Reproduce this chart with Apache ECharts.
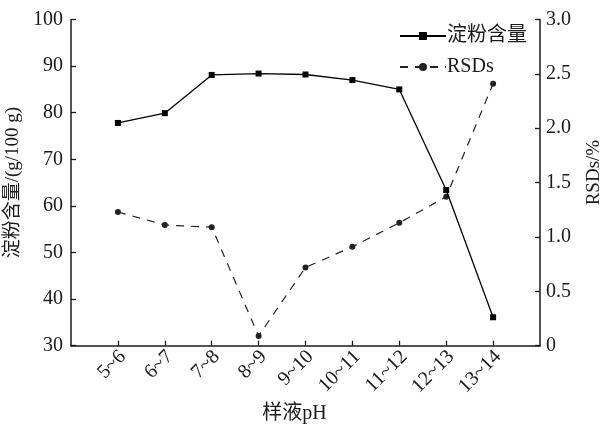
<!DOCTYPE html>
<html>
<head>
<meta charset="utf-8">
<script src="https://cdn.jsdelivr.net/npm/echarts@6/dist/echarts.min.js"></script>
<style>
  html, body { margin: 0; padding: 0; background: #fff; }
  #chart { width: 600px; height: 424px; }
</style>
</head>
<body>
<div id="chart"></div>
<script>
// pH ranges of the sample solution
const categories = ['5~6', '6~7', '7~8', '8~9', '9~10', '10~11', '11~12', '12~13', '13~14'];
// starch content, g/100 g (left axis)
const starch = [77.8, 79.9, 88.1, 88.4, 88.2, 87.0, 85.0, 63.4, 36.1];
// relative standard deviations, % (right axis)
const rsds = [1.23, 1.11, 1.09, 0.09, 0.72, 0.91, 1.13, 1.37, 2.41];

const FONT = '"Liberation Serif", "Times New Roman", "Noto Sans CJK SC", serif';
const INK = '#1a1a1a';

const chart = echarts.init(document.getElementById('chart'), null, { renderer: 'canvas' });

const axisLine = { show: true, onZero: false, lineStyle: { color: INK, width: 1.5 } };
const axisTick = { show: true, inside: true, length: 5, lineStyle: { color: INK, width: 1.3 } };

chart.setOption({
  animation: false,
  backgroundColor: '#fff',
  grid: {
    left: 71, right: 60, top: 19.5, bottom: 78.3,
    containLabel: false,
    outerBoundsMode: 'none'
  },
  legend: {
    orient: 'vertical',
    left: 394,
    top: 21,
    itemWidth: 46,
    itemHeight: 10,
    itemGap: 11,
    textStyle: { fontFamily: FONT, fontSize: 20, color: INK, padding: [0, 0, 0, -4] },
    data: ['淀粉含量', 'RSDs']
  },
  xAxis: {
    type: 'value',
    min: -1,
    max: 9,
    interval: 1,
    splitLine: { show: false },
    axisLine: axisLine,
    axisTick: axisTick,
    axisLabel: {
      rotate: 45,
      margin: 13,
      padding: [0, -7, 0, 0],
      fontFamily: FONT,
      fontSize: 20,
      color: INK,
      showMinLabel: false,
      showMaxLabel: false,
      formatter: v => (v >= 0 && v < categories.length ? categories[v] : '')
    },
    name: '样液pH',
    nameLocation: 'middle',
    nameGap: 58,
    nameTextStyle: { fontFamily: FONT, fontSize: 20, color: INK, padding: [0, 22, 0, 0] }
  },
  yAxis: [
    {
      type: 'value',
      min: 30,
      max: 100,
      interval: 10,
      splitLine: { show: false },
      axisLine: axisLine,
      axisTick: axisTick,
      axisLabel: { margin: 8, fontFamily: FONT, fontSize: 20, color: INK },
      name: '淀粉含量/(g/100 g)',
      nameLocation: 'middle',
      nameRotate: 90,
      nameGap: 42,
      nameTextStyle: { fontFamily: FONT, fontSize: 19, color: INK }
    },
    {
      type: 'value',
      position: 'right',
      min: 0,
      max: 3,
      interval: 0.5,
      splitLine: { show: false },
      axisLine: axisLine,
      axisTick: axisTick,
      axisLabel: {
        margin: 6,
        fontFamily: FONT,
        fontSize: 20,
        color: INK,
        formatter: v => (v === 0 ? '0' : v.toFixed(1))
      },
      name: 'RSDs/%',
      nameLocation: 'middle',
      nameRotate: 90,
      nameGap: 45,
      nameTextStyle: { fontFamily: FONT, fontSize: 19, color: INK, padding: [0, 0, 0, 20] }
    }
  ],
  series: [
    {
      name: '淀粉含量',
      type: 'line',
      yAxisIndex: 0,
      data: starch.map((v, i) => [i, v]),
      symbol: 'rect',
      symbolSize: 6,
      lineStyle: { color: '#000', width: 1.3 },
      itemStyle: { color: '#000' },
      z: 3
    },
    {
      name: 'RSDs',
      type: 'line',
      yAxisIndex: 1,
      data: rsds.map((v, i) => [i, v]),
      symbol: 'circle',
      symbolSize: 6,
      lineStyle: { color: '#222', width: 1.2, type: [8, 7] },
      itemStyle: { color: '#222' },
      z: 2
    }
  ]
});
</script>
</body>
</html>
